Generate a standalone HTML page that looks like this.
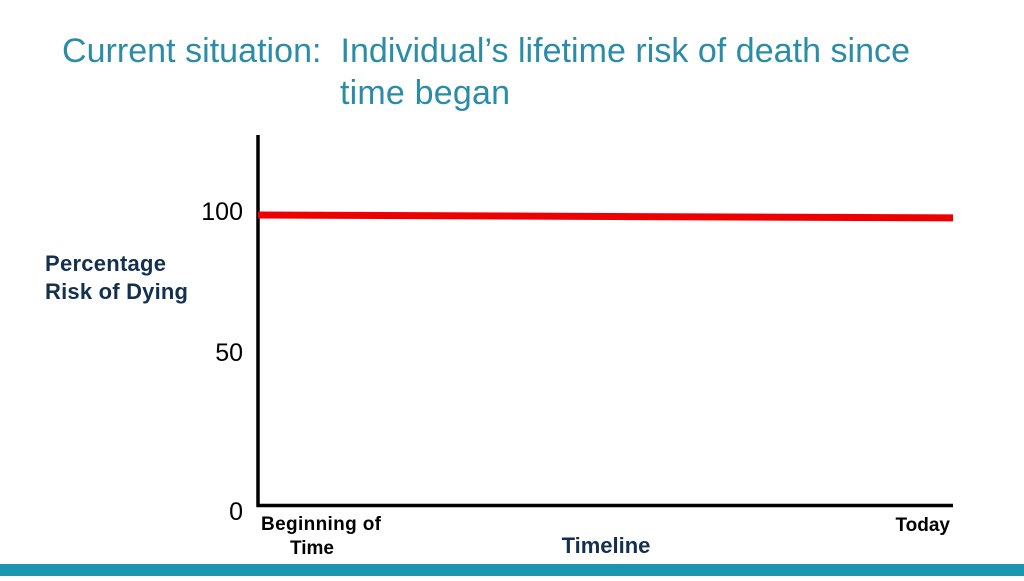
<!DOCTYPE html>
<html><head><meta charset="utf-8"><style>
html,body{margin:0;padding:0;background:#fff;}
body{width:1024px;height:576px;position:relative;overflow:hidden;font-family:"Liberation Sans",Arial,sans-serif;}
</style></head><body>
<svg width="1024" height="576" viewBox="0 0 1024 576" xmlns="http://www.w3.org/2000/svg">
<text x="62" y="62" font-size="34" fill="#2a8ca6" textLength="848" xml:space="preserve">Current situation:  Individual’s lifetime risk of death since</text>
<text x="340" y="104" font-size="34" fill="#2a8ca6" textLength="170">time began</text>
<g id="ticks"></g>
<line x1="258" y1="135" x2="258" y2="507" stroke="#000" stroke-width="3.5"/>
<line x1="256.5" y1="505.5" x2="953" y2="505.5" stroke="#000" stroke-width="3.5"/>
<polyline id="riskLine" fill="none" stroke="#ee0000" stroke-width="7"/>
<text x="45" y="271" font-size="22" font-weight="bold" fill="#13304f" textLength="121">Percentage</text>
<text x="45" y="299" font-size="22" font-weight="bold" fill="#13304f" textLength="143">Risk of Dying</text>
<text x="261" y="530" font-size="19" font-weight="bold" fill="#000" textLength="120">Beginning of</text>
<text x="290" y="554" font-size="19" font-weight="bold" fill="#000">Time</text>
<text x="950" y="531" font-size="19" font-weight="bold" fill="#000" text-anchor="end">Today</text>
<text x="606" y="553" font-size="22" font-weight="bold" fill="#13304f" text-anchor="middle">Timeline</text>
<rect x="0" y="564" width="1024" height="12" fill="#1a96b0"/>
</svg>
<script>
const xCats = [0, 1];
const riskValues = [100, 99];
const yTicks = [0, 50, 100];
const tickLabelYs = {0: 520, 50: 361, 100: 220};
function xScale(i){ return 258 + i * (953 - 258); }
function yScale(v){ return 506 - v * 2.91; }
const line = document.getElementById('riskLine');
line.setAttribute('points', xCats.map((c,i)=>xScale(c)+','+yScale(riskValues[i])).join(' '));
const g = document.getElementById('ticks');
yTicks.forEach(t=>{
  const el = document.createElementNS('http://www.w3.org/2000/svg','text');
  el.setAttribute('x', 243);
  el.setAttribute('y', tickLabelYs[t] !== undefined ? tickLabelYs[t] : yScale(t)+8);
  el.setAttribute('text-anchor','end');
  el.setAttribute('font-size','25');
  el.setAttribute('fill','#000');
  
  
  el.textContent = t;
  g.appendChild(el);
});
</script>
</body></html>
